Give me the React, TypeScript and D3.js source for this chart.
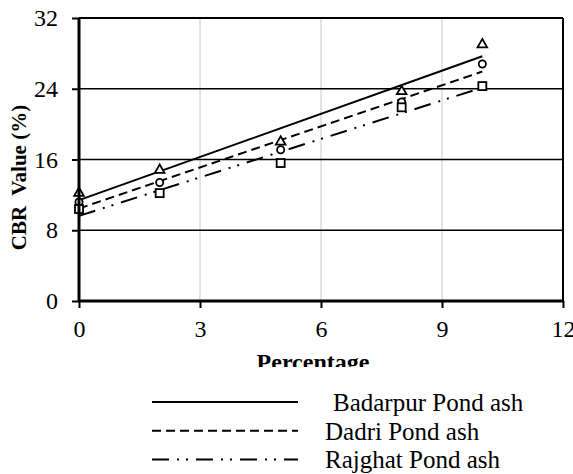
import { useRef, useEffect } from 'react';
import * as d3 from 'd3';

const percentages = [0, 2, 5, 8, 10];
const badarpur = [12.2, 14.8, 18.0, 23.7, 29.0];
const dadri = [11.2, 13.4, 17.1, 22.5, 26.8];
const rajghat = [10.4, 12.2, 15.6, 21.9, 24.3];
const xTicks = [0, 3, 6, 9, 12];
const yTicks = [0, 8, 16, 24, 32];

const seriesNames = ['Badarpur Pond ash', 'Dadri Pond ash', 'Rajghat Pond ash'];

const W = 573;
const H = 474;
const FONT = "'Liberation Serif', 'Times New Roman', Times, 'DejaVu Serif', serif";

// least squares fit, like an Excel linear trendline
const fit = (xs: number[], ys: number[]) => {
  const mx = d3.mean(xs)!;
  const my = d3.mean(ys)!;
  const sxy = d3.sum(xs, (x, i) => (x - mx) * (ys[i] - my));
  const sxx = d3.sum(xs, x => (x - mx) * (x - mx));
  const b = sxy / sxx;
  return (x: number) => my + b * (x - mx);
};

const App = () => {
  const ref = useRef<SVGSVGElement>(null);

  useEffect(() => {
    const svg = d3.select(ref.current);
    svg.selectAll('*').remove();

    const x = d3.scaleLinear().domain([0, 12]).range([79, 563]);
    const y = d3.scaleLinear().domain([0, 32]).range([301, 18]);

    const series = [
      { name: seriesNames[0], values: badarpur, dash: null, marker: 'triangle' },
      { name: seriesNames[1], values: dadri, dash: '9,5', marker: 'circle' },
      { name: seriesNames[2], values: rajghat, dash: '17,8,2,7,2,8', marker: 'square' },
    ];

    const defs = svg.append('defs');
    defs.append('clipPath').attr('id', 'figclip')
      .append('rect').attr('x', 0).attr('y', 0).attr('width', W).attr('height', 367);

    // vertical grid (light)
    svg.append('g')
      .selectAll('line')
      .data(xTicks.filter(t => t > 0 && t < 12))
      .join('line')
      .attr('x1', d => x(d)).attr('x2', d => x(d))
      .attr('y1', y(0)).attr('y2', y(32))
      .attr('stroke', '#c8c8c8').attr('stroke-width', 1);

    // horizontal grid (dark)
    svg.append('g')
      .selectAll('line')
      .data(yTicks.filter(t => t > 0))
      .join('line')
      .attr('x1', x(0)).attr('x2', x(12))
      .attr('y1', d => y(d)).attr('y2', d => y(d))
      .attr('stroke', '#000').attr('stroke-width', d => (d === 32 ? 2 : 1.6));

    // right border
    svg.append('line')
      .attr('x1', x(12)).attr('x2', x(12)).attr('y1', y(0)).attr('y2', y(32))
      .attr('stroke', '#000').attr('stroke-width', 2);

    // trendlines
    series.forEach(s => {
      const f = fit(percentages, s.values);
      const ends = [0, 10];
      svg.append('path')
        .attr('d', d3.line<number>().x(d => x(d)).y(d => y(f(d)))(ends))
        .attr('fill', 'none')
        .attr('stroke', '#000')
        .attr('stroke-width', 2)
        .attr('stroke-dasharray', s.dash);
    });

    // markers
    series.forEach(s => {
      const g = svg.append('g').attr('fill', '#fff').attr('stroke', '#000').attr('stroke-width', 1.8);
      percentages.forEach((p, i) => {
        const cx = x(p);
        const cy = y(s.values[i]);
        if (s.marker === 'triangle') {
          g.append('path').attr('d', d3.symbol(d3.symbolTriangle, 40)()).attr('transform', `translate(${cx},${cy})`);
        } else if (s.marker === 'circle') {
          g.append('circle').attr('cx', cx).attr('cy', cy).attr('r', 3.6);
        } else {
          g.append('rect').attr('x', cx - 4).attr('y', cy - 4).attr('width', 8).attr('height', 8);
        }
      });
    });

    // axes
    const yAxis = svg.append('g').attr('transform', `translate(${x(0)},0)`)
      .call(d3.axisLeft(y).tickValues(yTicks).tickSize(7).tickPadding(14));
    const xAxis = svg.append('g').attr('transform', `translate(0,${y(0)})`)
      .call(d3.axisBottom(x).tickValues(xTicks).tickSize(7).tickPadding(12));
    [yAxis, xAxis].forEach(a => {
      a.attr('font-family', FONT).attr('font-size', 24);
      a.select('.domain').attr('stroke', '#000').attr('stroke-width', 3);
      a.selectAll('.tick line').attr('stroke', '#000').attr('stroke-width', 2);
      a.selectAll('.tick text').attr('fill', '#000');
    });
    xAxis.select('.domain').attr('d', `M${x(0)},0H${x(12)}`);
    yAxis.select('.domain').attr('d', `M0,${y(0)}V${y(32)}`);

    // axis titles
    svg.append('text')
      .attr('transform', `translate(26,${(y(0) + y(32)) / 2 + 18}) rotate(-90)`)
      .attr('text-anchor', 'middle')
      .attr('font-family', FONT)
      .attr('font-size', 21)
      .attr('font-weight', 'bold')
      .style('white-space', 'pre')
      .text('CBR  Value (%)');

    svg.append('text')
      .attr('clip-path', 'url(#figclip)')
      .attr('x', 313)
      .attr('y', 370)
      .attr('text-anchor', 'middle')
      .attr('font-family', FONT)
      .attr('font-size', 24)
      .attr('font-weight', 'bold')
      .text('Percentage');

    // legend
    const legend = svg.append('g');
    series.forEach((s, i) => {
      const ly = 402 + i * 28.7;
      legend.append('line')
        .attr('x1', 152).attr('x2', 298).attr('y1', ly).attr('y2', ly)
        .attr('stroke', '#000').attr('stroke-width', 2)
        .attr('stroke-dasharray', s.dash);
      legend.append('text')
        .attr('x', i === 0 ? 333 : 325)
        .attr('y', ly + 9)
        .attr('font-family', FONT)
        .attr('font-size', 25)
        .text(s.name);
    });
  }, []);

  return (
    <svg
      ref={ref}
      width={W}
      height={H}
      style={{ position: 'absolute', left: 0, top: 0, background: '#fff' }}
    ></svg>
  );
};

export default App;
